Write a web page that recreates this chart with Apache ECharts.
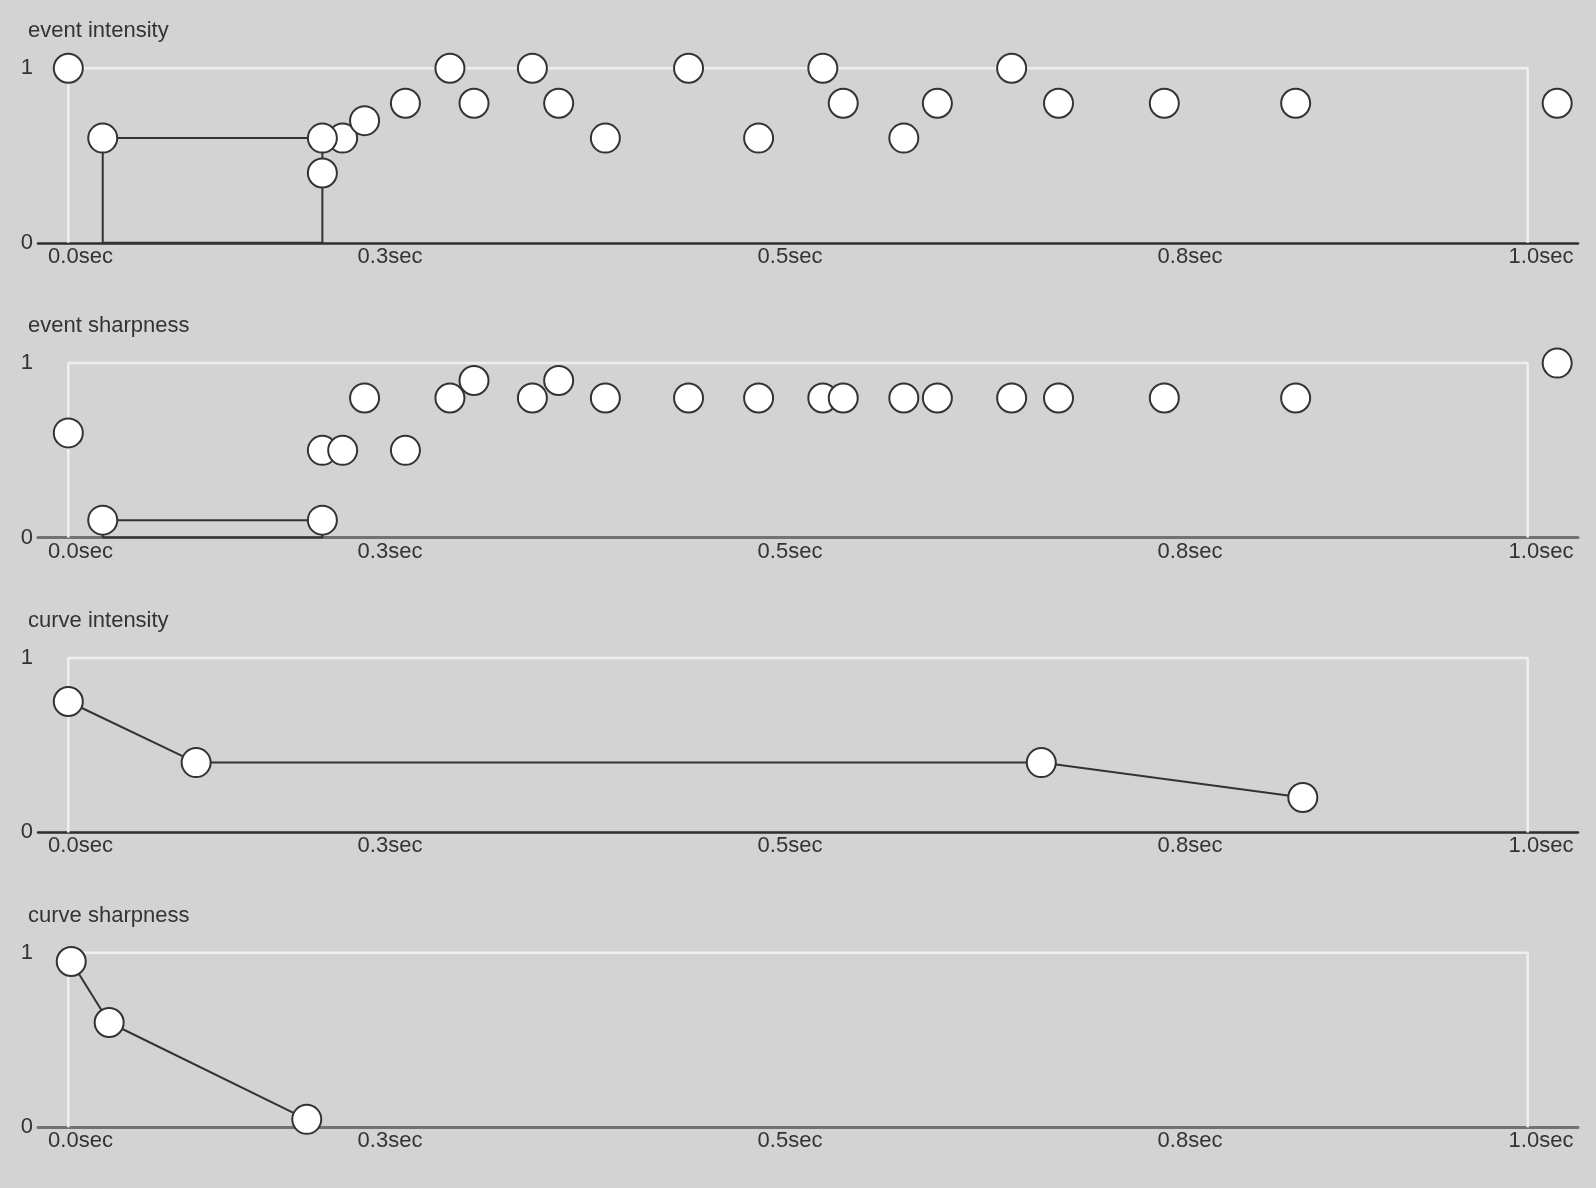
<!DOCTYPE html>
<html><head><meta charset="utf-8">
<script src="https://cdn.jsdelivr.net/npm/echarts@6/dist/echarts.min.js"></script>
<style>html,body{margin:0;padding:0;background:#d3d3d3}#c{width:1596px;height:1188px}</style>
</head><body><div id="c"></div>
<script>
// ---------- data ----------
const panelTitles = ['event intensity', 'event sharpness', 'curve intensity', 'curve sharpness'];
const tickValues = [0, 0.25, 0.5, 0.75, 1.0];
const tickLabels = ['0.0sec', '0.3sec', '0.5sec', '0.8sec', '1.0sec'];
const yTickLabels = ['0', '1'];

// transient events (time in sec)
const eventTimes     = [0, 0.1741, 0.188, 0.203, 0.231, 0.2615, 0.278, 0.318, 0.336, 0.368, 0.425, 0.473, 0.517, 0.531, 0.5725, 0.5955, 0.6464, 0.6785, 0.751, 0.841, 1.0202];
const eventIntensity = [1.0, 0.4, 0.6, 0.7, 0.8, 1.0, 0.8, 1.0, 0.8, 0.6, 1.0, 0.6, 1.0, 0.8, 0.6, 0.8, 1.0, 0.8, 0.8, 0.8, 0.8];
const eventSharpness = [0.6, 0.5, 0.5, 0.8, 0.5, 0.8, 0.9, 0.8, 0.9, 0.8, 0.8, 0.8, 0.8, 0.8, 0.8, 0.8, 0.8, 0.8, 0.8, 0.8, 1.0];

// continuous event
const contStart = 0.0236;
const contEnd = 0.1741;
const contIntensity = 0.6;
const contSharpness = 0.1;

// parameter curves
const curveIntensityTimes  = [0, 0.0876, 0.6667, 0.8459];
const curveIntensityValues = [0.75, 0.4, 0.4, 0.2];
const curveSharpnessTimes  = [0.002, 0.028, 0.1634];
const curveSharpnessValues = [0.95, 0.6, 0.045];

const frameCorners = [[0, 0], [0, 1], [1, 1], [1, 0]];

// ---------- layout ----------
const W = 1596;
const LEFT = 38, RIGHT = 18;
const TOP0 = 68.3, STEP = 294.8, H = 174.5;
const PX0 = 68.3, PX1 = 1527.7;               // pixels of t=0 and t=1 for marks
const xPer = PX1 - PX0;
const xMin = (LEFT - PX0) / xPer;
const xMax = (W - RIGHT - PX0) / xPer;
// tick label scale (labels placed on their own linear scale, edge labels kept inside)
const LB0 = -10, LB1 = 1590, LBL_MIN_PX = 80.5, LBL_MAX_PX = 1541;
const lPer = LB1 - LB0;
const lMin = (LEFT - LB0) / lPer;
const lMax = (W - RIGHT - LB0) / lPer;
const labelPos = tickValues.map(v => {
  let px = LB0 + v * lPer;
  px = Math.max(LBL_MIN_PX, Math.min(LBL_MAX_PX, px));
  return (px - LB0) / lPer;
});

const FONT = '"Liberation Sans", Arial, sans-serif';
const TEXT = '#333';
const axisColors = ['#2e2e2e', '#727272', '#2e2e2e', '#727272'];
const axisWidths = [2.5, 3, 2.5, 3];

const grids = [], xAxes = [], yAxes = [], series = [], titles = [];
const pointStyle = { color: '#fff', borderColor: '#333', borderWidth: 2, opacity: 1 };
const SYM = 29;

for (let k = 0; k < 4; k++) {
  const top = TOP0 + STEP * k;
  grids.push({ left: LEFT, right: RIGHT, top: top, height: H });
  titles.push({
    text: panelTitles[k], left: 28, top: top - 37 - 13, padding: 0,
    textStyle: { fontFamily: FONT, fontSize: 22, fontWeight: 'normal', color: TEXT, lineHeight: 26 }
  });
  xAxes.push({
    gridIndex: k, type: 'value', min: xMin, max: xMax,
    axisLine: { show: true, onZero: false, lineStyle: { color: axisColors[k], width: axisWidths[k] } },
    axisTick: { show: false }, axisLabel: { show: false }, splitLine: { show: false }
  });
  yAxes.push({
    gridIndex: k, type: 'value', min: 0, max: 1, interval: 1,
    axisLine: { show: false }, axisTick: { show: false }, splitLine: { show: false },
    axisLabel: { margin: 5, fontFamily: FONT, fontSize: 22, color: TEXT,
      formatter: v => yTickLabels[Math.round(v)] }
  });
  series.push({
    type: 'line', xAxisIndex: k, yAxisIndex: k, data: frameCorners,
    symbol: 'none', silent: true, z: 1, clip: false,
    lineStyle: { color: '#efefef', width: 2.5 }
  });
}
// label grids
for (let k = 0; k < 4; k++) {
  const top = TOP0 + STEP * k;
  grids.push({ left: LEFT, right: RIGHT, top: top, height: H });
  xAxes.push({
    gridIndex: 4 + k, type: 'value', min: lMin, max: lMax, position: 'bottom',
    axisLine: { show: false }, axisTick: { show: false }, splitLine: { show: false },
    axisLabel: {
      customValues: labelPos, margin: 3, fontFamily: FONT, fontSize: 22, color: TEXT,
      formatter: v => {
        let best = 0, bd = Infinity;
        labelPos.forEach((p, i) => { const d = Math.abs(p - v); if (d < bd) { bd = d; best = i; } });
        return tickLabels[best];
      }
    }
  });
  yAxes.push({ gridIndex: 4 + k, type: 'value', min: 0, max: 1, show: false });
}

function eventPanel(k, values, contValue) {
  series.push({
    type: 'line', xAxisIndex: k, yAxisIndex: k, symbol: 'none', z: 2, clip: false,
    lineStyle: { color: '#333', width: 2 },
    data: [[contStart, 0], [contStart, contValue], [contEnd, contValue], [contEnd, 0], [contStart, 0]]
  });
  const pts = eventTimes.map((t, i) => [t, values[i]]);
  pts.push([contStart, contValue], [contEnd, contValue]);
  series.push({
    type: 'scatter', xAxisIndex: k, yAxisIndex: k, symbolSize: SYM, z: 3, clip: false,
    itemStyle: pointStyle, data: pts
  });
}
eventPanel(0, eventIntensity, contIntensity);
eventPanel(1, eventSharpness, contSharpness);

function curvePanel(k, times, values) {
  series.push({
    type: 'line', xAxisIndex: k, yAxisIndex: k, z: 3, clip: false,
    symbol: 'circle', symbolSize: SYM, showAllSymbol: true,
    lineStyle: { color: '#333', width: 2 }, itemStyle: pointStyle,
    data: times.map((t, i) => [t, values[i]])
  });
}
curvePanel(2, curveIntensityTimes, curveIntensityValues);
curvePanel(3, curveSharpnessTimes, curveSharpnessValues);

const chart = echarts.init(document.getElementById('c'), null, { renderer: 'canvas' });
chart.setOption({
  backgroundColor: '#d3d3d3',
  animation: false,
  title: titles,
  grid: grids,
  xAxis: xAxes,
  yAxis: yAxes,
  series: series
});
</script>
</body></html>
